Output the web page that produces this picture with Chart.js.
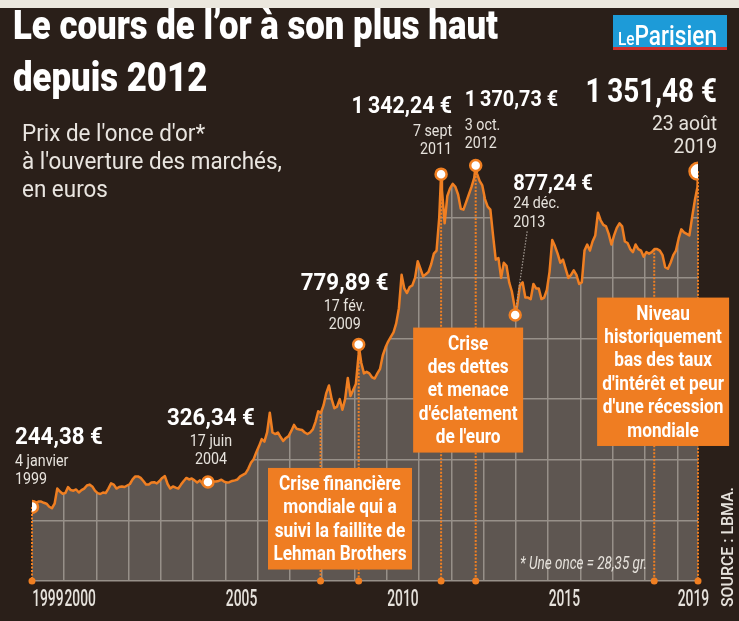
<!DOCTYPE html>
<html lang="fr">
<head>
<meta charset="utf-8">
<title>Le cours de l’or à son plus haut depuis 2012</title>
<script src="https://cdn.jsdelivr.net/npm/chart.js@4.4.1/dist/chart.umd.min.js"></script>
<style>
  html, body { margin: 0; padding: 0; }
  body { width: 739px; height: 621px; background: #2a1f19; position: relative; overflow: hidden; font-family: Roboto, 'Noto Sans', sans-serif; }
  .band { position: absolute; left: 0; top: 0; width: 739px; height: 8px; background: #ebe7de; }
  #chart { position: absolute; left: 0; top: 0; }
  .fit { position: absolute; white-space: nowrap; transform-origin: 0 0; }
  #title { left: 13px; top: -1px; color: #fff; font-weight: 900; font-size: 41px; line-height: 52px; }
  #subtitle { left: 22px; top: 120px; color: #e9e5e0; font-weight: 400; font-size: 23px; line-height: 28px; }
  #logo { position: absolute; left: 613px; top: 15px; width: 114px; height: 32px; background: #1d9bd8; border-bottom: 3px solid #cf2e2b; }
  #logoText { left: 5px; top: 7px; color: #fff; font-weight: 500; font-size: 28px; line-height: 1; }
  #logoText small { font-size: 19px; }
  #note { left: 520px; top: 553px; color: #e6e2dc; font-style: italic; font-size: 19px; line-height: 1; }
  #source { left: 720px; top: 607px; color: #e6e2dc; font-weight: 500; font-size: 16px; line-height: 16px; }
</style>
</head>
<body>
<div class="band"></div>
<canvas id="chart" width="739" height="621"></canvas>
<div id="title" class="fit" data-w="485">Le cours de l’or à son plus haut<br>depuis 2012</div>
<div id="subtitle" class="fit" data-w="260">Prix de l'once d'or*<br>à l'ouverture des marchés,<br>en euros</div>
<div id="logo"><span id="logoText" class="fit" data-w="99"><small>Le</small>Parisien</span></div>
<div id="note" class="fit" data-w="127">* Une once = 28,35 gr.</div>
<div id="source" class="fit" data-w="120" data-rotate="1">SOURCE : LBMA.</div>
<script>
// gold price per ounce in euros, mid-month readings, Jan 1999 -> Aug 2019
const firstYear = 1999;
const monthlyPrices = [
    250, 258, 262, 262, 258, 255, 245, 240, 255, 305, 295, 288,          // 1999
    290, 310, 300, 298, 302, 292, 300, 305, 315, 318, 312, 298,          // 2000
    290, 287, 292, 290, 305, 322, 318, 305, 310, 312, 310, 315,          // 2001
    320, 335, 345, 345, 340, 330, 318, 318, 325, 326, 322, 330,          // 2002
    340, 346, 320, 305, 312, 308, 305, 318, 330, 340, 335, 338,          // 2003
    332, 325, 332, 322, 318, 320, 322, 328, 328, 330, 334, 328,          // 2004
    325, 326, 330, 332, 335, 345, 350, 355, 370, 390, 402, 425,          // 2005
    445, 468, 460, 490, 555, 490, 485, 490, 475, 462, 472, 478,          // 2006
    495, 515, 502, 500, 498, 490, 485, 490, 500, 525, 560, 555,          // 2007
    580, 620, 645, 600, 570, 575, 600, 565, 600, 670, 610, 630,          // 2008
    650, 745, 720, 685, 690, 685, 672, 668, 685, 700, 744, 770,          // 2009
    790, 805, 820, 850, 900, 1010, 965, 950, 970, 975, 1000, 1055,       // 2010
    1030, 1005, 1012, 1020, 1045, 1080, 1090, 1200, 1290, 1180, 1270, 1295, // 2011
    1310, 1300, 1275, 1228, 1225, 1250, 1275, 1300, 1330, 1345, 1320, 1305, // 2012
    1260, 1235, 1225, 1140, 1060, 1065, 1000, 1050, 1040, 985, 955, 905,  // 2013
    910, 975, 985, 935, 935, 930, 980, 965, 965, 930, 935, 960,          // 2014
    1020, 1125, 1105, 1080, 1050, 1060, 1030, 1000, 1010, 1025, 1010, 980, // 2015
    985, 1090, 1110, 1090, 1120, 1140, 1215, 1190, 1175, 1170, 1145, 1110, // 2016
    1140, 1165, 1180, 1170, 1120, 1115, 1095, 1085, 1110, 1095, 1090, 1070, // 2017
    1085, 1080, 1085, 1095, 1095, 1090, 1075, 1035, 1030, 1050, 1075, 1090, // 2018
    1130, 1160, 1150, 1145, 1140, 1200, 1255, 1300                       // 2019
];

// highlighted days
const keyDates = ['1999-01-04', '2004-06-17', '2009-02-17', '2011-09-07', '2012-10-03', '2013-12-24', '2019-08-23'];
const keyPrices = [244.38, 326.34, 779.89, 1342.24, 1370.73, 877.24, 1351.48];
const keyDays = ['4 janvier', '17 juin', '17 fév.', '7 sept', '3 oct.', '24 déc.', '23 août'];

// dotted orange markers (crisis periods)
const markerDates = ['1999-01-04', '2007-12-13', '2009-02-17', '2011-09-07', '2012-10-03', '2018-04-15', '2019-08-23'];

const tickYears = [1999, 2000, 2005, 2010, 2015, 2019];
const gridYears = [];
for (let yr = 2000; yr <= 2019; yr++) gridYears.push(yr);

const noteTexts = [
    ['Crise financière', 'mondiale qui a', 'suivi la faillite de', 'Lehman Brothers'],
    ['Crise', 'des dettes', 'et menace', "d'éclatement", "de l'euro"],
    ['Niveau', 'historiquement', 'bas des taux', "d'intérêt et peur", "d'une récession", 'mondiale']
];

// colours
const bgColor = '#2a1f19';
const areaColor = '#5e5651';
const gridColor = '#979089';
const orange = '#f07f22';
const boxColor = '#ef7d22';
const softText = '#e6e2dc';

// plot area wanted on the page
const AREA_TOP = 96;
const AREA_BOTTOM = 581;

// layout of the notes: centre year, top price, width in px
const noteBoxes = [
    { year: 2008.55, price: 373, width: 144 },
    { year: 2012.52, price: 836, width: 110 },
    { year: 2018.56, price: 935, width: 132 }
];

// label placement around each highlighted point (px offsets)
const keyLabelLayout = [
    { align: 'left', dx: -17, vy: -71, dy: -47, gap: 18, vSize: 24, vSx: 0.93, dSize: 17, dSx: 0.84 },
    { align: 'center', dx: 3, vy: -66, dy: -42, gap: 18, vSize: 24, vSx: 0.93, dSize: 17, dSx: 0.84 },
    { align: 'center', dx: -14, vy: -63, dy: -40, gap: 18, vSize: 24, vSx: 0.93, dSize: 17, dSx: 0.84 },
    { align: 'right', dx: 11, vy: -70, dy: -44, gap: 18, vSize: 24, vSx: 0.89, dSize: 17, dSx: 0.84 },
    { align: 'left', dx: -11, vy: -67, dy: -42, gap: 18, vSize: 22, vSx: 0.9, dSize: 17, dSx: 0.84 },
    { align: 'left', dx: -2, vy: -133, dy: -113, gap: 19, vSize: 22, vSx: 0.92, dSize: 17, dSx: 0.84 },
    { align: 'right', dx: 19, vy: -81, dy: -49, gap: 23, vSize: 34, vSx: 0.82, dSize: 21, dSx: 0.92 }
];

function toYear(s) {
    const [y, m, d] = s.split('-').map(Number);
    const start = Date.UTC(y, 0, 1);
    const end = Date.UTC(y + 1, 0, 1);
    return y + (Date.UTC(y, m - 1, d) - start) / (end - start);
}

function euro(v) {
    const [int, dec] = v.toFixed(2).split('.');
    return int.replace(/\B(?=(\d{3})+(?!\d))/g, '\u2009') + ',' + dec + ' €';
}

const linePoints = monthlyPrices
    .map((v, i) => ({ x: firstYear + (i + 0.5) / 12, y: v }))
    .concat(keyDates.map((d, i) => ({ x: toYear(d), y: keyPrices[i] })))
    .sort((a, b) => a.x - b.x);

const xMin = toYear(keyDates[0]);
const xMax = toYear(keyDates[keyDates.length - 1]);

function priceAt(t) {
    for (let i = 1; i < linePoints.length; i++) {
        const a = linePoints[i - 1], b = linePoints[i];
        if (t <= b.x) return a.y + (b.y - a.y) * (t - a.x) / (b.x - a.x);
    }
    return linePoints[linePoints.length - 1].y;
}

// draws text squeezed horizontally, y is the middle of the capitals
function drawText(ctx, str, x, yMid, o) {
    ctx.save();
    ctx.font = `${o.weight || 400} ${o.size}px Roboto, 'Noto Sans', sans-serif`;
    ctx.fillStyle = o.color || '#fff';
    ctx.textAlign = o.align || 'left';
    ctx.textBaseline = 'alphabetic';
    ctx.translate(x, yMid + o.size * 0.355);
    ctx.scale(o.sx || 1, 1);
    ctx.fillText(str, 0, 0);
    ctx.restore();
}

// linear scale whose tick labels are drawn condensed
const TICK_SQUEEZE = 0.6;
class CondensedLinearScale extends Chart.LinearScale {
    drawLabels(chartArea) {
        const ctx = this.ctx;
        const fillText = ctx.fillText;
        ctx.fillText = function (text, x, y) {
            this.save();
            this.translate(x, y);
            this.scale(TICK_SQUEEZE, 1);
            fillText.call(this, text, 0, 0);
            this.restore();
        };
        super.drawLabels(chartArea);
        delete ctx.fillText;
    }
}
CondensedLinearScale.id = 'condensedLinear';
CondensedLinearScale.defaults = Chart.LinearScale.defaults;
Chart.register(CondensedLinearScale);

// grey background of the plot, the dark fill above the line hides it
const areaBackground = {
    id: 'areaBackground',
    beforeDraw(chart) {
        const { ctx, chartArea: a } = chart;
        ctx.save();
        ctx.fillStyle = areaColor;
        ctx.fillRect(a.left, a.top, a.right - a.left, a.bottom - a.top);
        ctx.restore();
    }
};

// dotted period markers and orange notes
const periodMarkers = {
    id: 'periodMarkers',
    beforeDatasetsDraw(chart) {
        const { ctx, chartArea, scales: { x, y } } = chart;
        ctx.save();
        ctx.strokeStyle = orange;
        ctx.fillStyle = orange;
        ctx.lineWidth = 2;
        ctx.setLineDash([2, 1.5]);
        markerDates.forEach((d) => {
            const t = toYear(d);
            const px = x.getPixelForValue(t);
            ctx.beginPath();
            ctx.moveTo(px, y.getPixelForValue(priceAt(t)));
            ctx.lineTo(px, chartArea.bottom);
            ctx.stroke();
        });
        ctx.setLineDash([]);
        markerDates.forEach((d) => {
            ctx.beginPath();
            ctx.arc(x.getPixelForValue(toYear(d)), chartArea.bottom, 3.5, 0, Math.PI * 2);
            ctx.fill();
        });
        noteBoxes.forEach((b, i) => {
            const lines = noteTexts[i];
            const cx = x.getPixelForValue(b.year);
            const top = y.getPixelForValue(b.price);
            const h = lines.length * 23.4 + 8;
            ctx.fillStyle = boxColor;
            ctx.fillRect(cx - b.width / 2, top, b.width, h);
            lines.forEach((line, j) => drawText(ctx, line, cx, top + 14.5 + j * 23.4,
                { size: 21, weight: 700, sx: 0.82, align: 'center' }));
        });
        ctx.restore();
    }
};

// value + date labels of the highlighted points
const keyLabels = {
    id: 'keyLabels',
    afterDatasetsDraw(chart) {
        const { ctx, scales: { x, y } } = chart;
        const pts = keyDates.map((d, i) => ({ x: x.getPixelForValue(toYear(d)), y: y.getPixelForValue(keyPrices[i]) }));

        // thin connector from the 2013 low up to its label
        ctx.save();
        ctx.strokeStyle = '#a39b94';
        ctx.lineWidth = 1.2;
        ctx.setLineDash([1.5, 1.5]);
        ctx.beginPath();
        ctx.moveTo(pts[5].x + 1, pts[5].y - 8);
        ctx.lineTo(pts[5].x + 12, pts[5].y - 84);
        ctx.stroke();
        ctx.restore();

        keyLabelLayout.forEach((l, i) => {
            const px = pts[i].x + l.dx;
            const py = pts[i].y;
            drawText(ctx, euro(keyPrices[i]), px, py + l.vy, { size: l.vSize, weight: 700, sx: l.vSx, align: l.align });
            drawText(ctx, keyDays[i], px, py + l.dy, { size: l.dSize, sx: l.dSx, align: l.align, color: softText });
            drawText(ctx, keyDates[i].slice(0, 4), px, py + l.dy + l.gap, { size: l.dSize, sx: l.dSx, align: l.align, color: softText });
        });
    }
};

const chart = new Chart(document.getElementById('chart'), {
    type: 'line',
    data: {
        datasets: [
            {
                data: linePoints,
                borderColor: orange,
                borderWidth: 2.5,
                borderJoinStyle: 'round',
                backgroundColor: bgColor,
                fill: 'end',
                pointRadius: 0,
                tension: 0,
                order: 1
            },
            {
                data: keyDates.map((d, i) => ({ x: toYear(d), y: keyPrices[i] })),
                showLine: false,
                pointRadius: [6, 5.5, 5.5, 5.5, 5.5, 5.5, 8.5],
                pointBackgroundColor: '#ffffff',
                pointBorderColor: orange,
                pointBorderWidth: 2.5,
                order: 0
            }
        ]
    },
    options: {
        responsive: false,
        devicePixelRatio: 1,
        animation: false,
        events: [],
        layout: { padding: { left: 32, right: 41, top: AREA_TOP, bottom: 10 } },
        plugins: {
            legend: { display: false },
            tooltip: { enabled: false }
        },
        scales: {
            x: {
                type: 'condensedLinear',
                display: true,
                position: 'bottom',
                min: xMin,
                max: xMax,
                grid: { display: false, drawTicks: false },
                border: { display: false },
                afterBuildTicks: (scale) => { scale.ticks = tickYears.map(v => ({ value: v + 0.5 })); },
                ticks: {
                    autoSkip: false,
                    maxRotation: 0,
                    minRotation: 0,
                    padding: 8,
                    color: softText,
                    font: { family: 'Roboto', size: 23, weight: '500', lineHeight: 1 },
                    callback: (value) => String(Math.floor(value))
                }
            },
            years: {
                type: 'linear',
                display: true,
                position: 'top',
                min: xMin,
                max: xMax,
                afterBuildTicks: (scale) => { scale.ticks = gridYears.map(v => ({ value: v })); },
                grid: { display: true, color: gridColor, lineWidth: 1.5, drawTicks: false },
                border: { display: false },
                ticks: { display: false }
            },
            y: {
                display: true,
                min: 0,
                max: 1600,
                // no grid line on the top edge of the plot
                afterBuildTicks: (scale) => { scale.ticks = scale.ticks.filter(t => t.value < scale.max); },
                ticks: { display: false, stepSize: 200 },
                grid: { display: true, color: gridColor, lineWidth: 1.5, drawTicks: false },
                border: { display: false }
            }
        }
    },
    plugins: [areaBackground, periodMarkers, keyLabels]
});

// pin the plot area to the wanted top and bottom
const pad = chart.options.layout.padding;
pad.top += AREA_TOP - chart.chartArea.top;
pad.bottom += chart.chartArea.bottom - AREA_BOTTOM;
chart.update();

// squeeze the html texts to the widths of the original lettering
function fitTexts() {
    document.querySelectorAll('.fit').forEach((el) => {
        el.style.transform = 'none';
        const s = Number(el.dataset.w) / el.getBoundingClientRect().width;
        el.style.transform = el.dataset.rotate ? `rotate(-90deg) scaleX(${s})` : `scaleX(${s})`;
    });
}
fitTexts();
document.fonts.ready.then(fitTexts);
</script>
</body>
</html>
